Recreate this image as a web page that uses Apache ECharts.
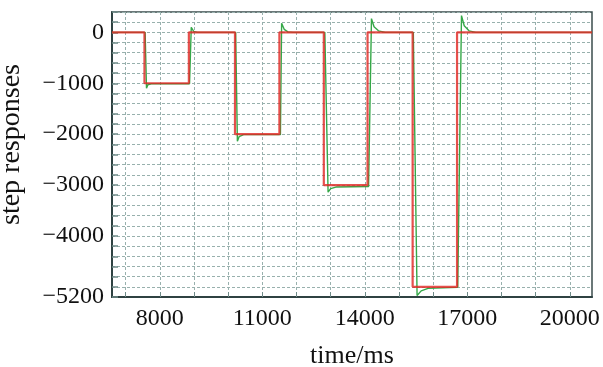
<!DOCTYPE html>
<html>
<head>
<meta charset="utf-8">
<script src="https://cdn.jsdelivr.net/npm/echarts@6/dist/echarts.min.js"></script>
<style>html,body{margin:0;padding:0;background:#fff;}#c{width:603px;height:367px;}</style>
</head>
<body>
<div id="c"></div>
<script>
// Data (time in ms, response values)
var referenceSignal = [
  [6600, 0], [7550, 0], [7550, -1000], [8850, -1000], [8850, 0],
  [10200, 0], [10200, -2000], [11500, -2000], [11500, 0],
  [12800, 0], [12800, -3000], [14080, -3000], [14080, 0],
  [15400, 0], [15400, -5000], [16700, -5000], [16700, 0], [20650, 0]
];
var responseSignal = [
  [6600, 0], [7570, 0], [7610, -1100], [7650, -1030], [7750, -1010], [8870, -1010],
  [8920, 100], [8990, 20], [9100, 0],
  [10220, 0], [10270, -2140], [10320, -2050], [10450, -2010], [11530, -2010],
  [11565, 180], [11640, 60], [11750, 10], [11900, 0],
  [12830, 0], [12925, -3140], [13000, -3070], [13150, -3040], [14110, -3030],
  [14195, 270], [14270, 110], [14400, 30], [14600, 0],
  [15420, 0], [15530, -5170], [15650, -5080], [15850, -5030], [16720, -5010],
  [16830, 330], [16910, 130], [17050, 30], [17250, 0], [20650, 0]
];
var xLabelValues = [8000, 11000, 14000, 17000, 20000];
var xGridValues = [7000, 8000, 9000, 10000, 11000, 12000, 13000, 14000, 15000, 16000, 17000, 18000, 19000, 20000];
var yLabelValues = [0, -1000, -2000, -3000, -4000, -5200];

var fontFam = 'Liberation Serif';
function fmt(v) { return String(v).replace('-', '\u2212'); }

var chart = echarts.init(document.getElementById('c'));
chart.setOption({
  animation: false,
  grid: { left: 112, right: 11, top: 12, bottom: 70, outerBoundsMode: 'none', containLabel: false, show: true, borderColor: '#3b4c4c', borderWidth: 1.5, backgroundColor: 'transparent' },
  xAxis: {
    type: 'value', min: 6600, max: 20650,
    name: 'time/ms', nameLocation: 'middle', nameGap: 46,
    nameTextStyle: { fontFamily: fontFam, fontSize: 26, color: '#111' },
    axisLine: { show: true, onZero: false, lineStyle: { color: '#2f4242', width: 2 } },
    axisTick: { show: true, inside: true, length: 5, customValues: xGridValues, lineStyle: { color: '#6f8a88', width: 1 } },
    axisLabel: { customValues: xLabelValues, fontFamily: fontFam, fontSize: 24, color: '#111', margin: 10, formatter: fmt },
    splitLine: { show: true, lineStyle: { color: '#98b0ad', type: [3, 2], width: 1 } }
  },
  yAxis: {
    type: 'value', min: -5200, max: 400, interval: 200,
    name: 'step responses', nameLocation: 'middle', nameGap: 86,
    nameTextStyle: { fontFamily: fontFam, fontSize: 28, color: '#111', padding: [0, 0, 0, 20] },
    axisLine: { show: true, onZero: false, lineStyle: { color: '#2f4242', width: 2 } },
    axisTick: { show: true, inside: true, length: 6, lineStyle: { color: '#6f8a88', width: 1.5 } },
    axisLabel: { customValues: yLabelValues, fontFamily: fontFam, fontSize: 24, color: '#111', margin: 8, formatter: fmt },
    splitLine: { show: true, lineStyle: { color: '#98b0ad', type: [3, 2], width: 1 } }
  },
  series: [
    {
      type: 'line', data: responseSignal, showSymbol: false, symbol: 'none',
      lineStyle: { color: '#35a848', width: 1.4 }, z: 2
    },
    {
      type: 'line', data: referenceSignal, showSymbol: false, symbol: 'none',
      lineStyle: { color: '#e02a26', width: 2.2, opacity: 0.82 }, z: 3
    }
  ]
});
</script>
</body>
</html>
